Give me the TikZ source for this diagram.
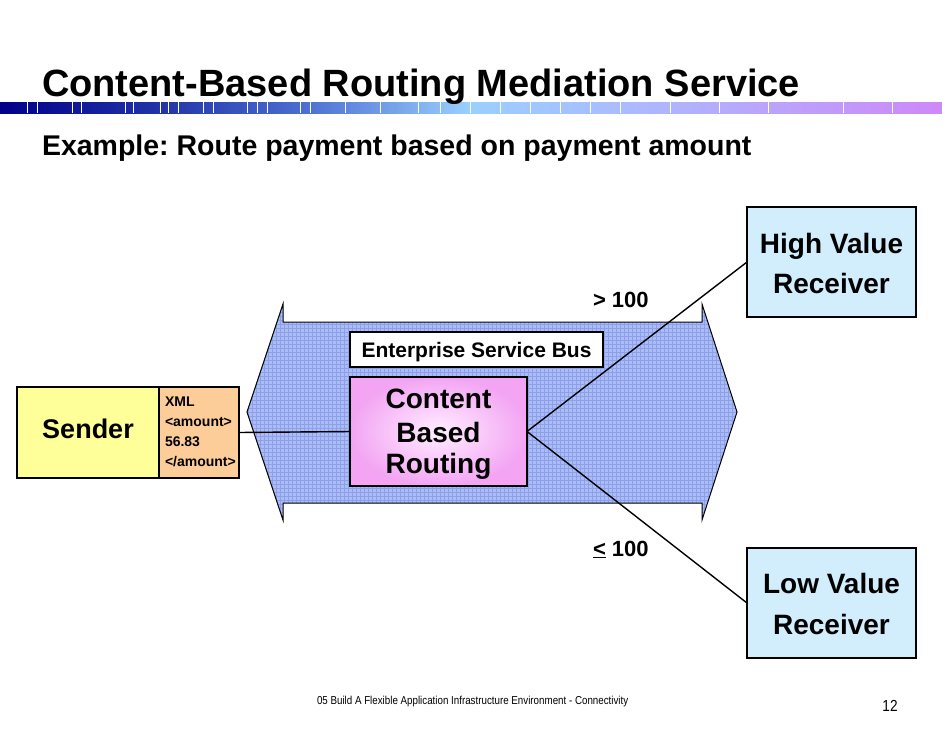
\documentclass[tikz,border=0pt]{standalone}
\usepackage{fontspec}
\setmainfont{Liberation Sans}
\frenchspacing
\definecolor{busblue}{RGB}{172,188,246}
\definecolor{gridblue}{RGB}{140,160,234}
\definecolor{senderyellow}{RGB}{255,255,153}
\definecolor{xmlpeach}{RGB}{252,204,153}
\definecolor{recvblue}{RGB}{210,238,253}
\definecolor{cbrouter}{RGB}{243,165,243}
\definecolor{cbrinner}{RGB}{255,238,255}
\definecolor{barA}{RGB}{0,0,136}
\definecolor{barB}{RGB}{34,52,168}
\definecolor{barC}{RGB}{74,108,208}
\definecolor{barD}{RGB}{153,208,255}
\definecolor{barE}{RGB}{170,188,255}
\definecolor{barF}{RGB}{188,162,250}
\definecolor{barG}{RGB}{206,136,250}
\pgfdeclarehorizontalshading{titlebar}{100bp}{color(0bp)=(barA); color(25bp)=(barA); color(33.5bp)=(barB); color(40.9bp)=(barC); color(49.9bp)=(barD); color(57.9bp)=(barE); color(66.4bp)=(barF); color(75bp)=(barG); color(100bp)=(barG)}
\newcommand\buspathcmd{(247,412) -- (283,304) -- (283,322) -- (702,322) -- (702,304) -- (737,412) -- (702,520) -- (702,503) -- (283,503) -- (283,520) -- cycle}
\begin{document}
\begin{tikzpicture}[x=1pt,y=-1pt,
  every node/.style={inner sep=0pt, outer sep=0pt},
  boxstyle/.style={draw=black, line width=1.1pt},
  bigtxt/.style={font=\fontsize{28}{34}\selectfont\bfseries, anchor=base},
  xmltxt/.style={font=\fontsize{14}{16}\selectfont\bfseries, anchor=base west},
  condtxt/.style={font=\fontsize{22}{26}\selectfont\bfseries, anchor=base west},
  conn/.style={draw=black, line width=1.4pt}]
\useasboundingbox (0,0) rectangle (942,728);
\fill[white] (0,0) rectangle (942,728);

% title bar
\shade[shading=titlebar] (0,102) rectangle (942,113);
\foreach \x in {27,37,72,81,125,133,160,168,178,203,213,247,257,267,300,310,345,380,418,440,470,500,530,560,590,620,670,719,768,843,892}
  \draw[white, line width=0.7pt] (\x,102) -- (\x,113);

\node[anchor=base west, font=\fontsize{38}{44}\selectfont\bfseries] (title) at (42,96) {Content-Based Routing Mediation Service};
\node[anchor=base west, font=\fontsize{28.5}{34}\selectfont\bfseries] (subtitle) at (42,155) {Example: Route payment based on payment amount};

% bus
\fill[busblue] \buspathcmd;
\begin{scope}
  \clip \buspathcmd;
  \draw[gridblue, line width=0.25pt, step=4pt] (240,300) grid (740,525);
\end{scope}
\draw[black, line width=1pt, line join=miter] \buspathcmd;

% boxes
\node[boxstyle, fill=white, minimum width=253pt, minimum height=35pt] (esb) at (476.5,349.5) {};
\node[font=\fontsize{21}{25}\selectfont\bfseries, anchor=base] (esbtxt) at (476.5,357) {Enterprise Service Bus};

\node[boxstyle, inner color=cbrinner, outer color=cbrouter, minimum width=177pt, minimum height=109pt] (cbr) at (438.5,431.5) {};
\node[bigtxt] (cbr1) at (438.5,408) {Content};
\node[bigtxt] (cbr2) at (438.5,442) {Based};
\node[bigtxt] (cbr3) at (438.5,473) {Routing};

\node[boxstyle, fill=senderyellow, minimum width=142pt, minimum height=91pt] (sender) at (88,432.5) {};
\node[font=\fontsize{27}{32}\selectfont\bfseries, anchor=base] (sendertxt) at (88,438) {Sender};

\node[boxstyle, fill=xmlpeach, minimum width=80pt, minimum height=91pt] (xml) at (199,432.5) {};
\node[xmltxt] (xml1) at (165,406) {XML};
\node[xmltxt] (xml2) at (165,426) {<amount>};
\node[xmltxt] (xml3) at (165,446) {56.83};
\node[xmltxt] (xml4) at (165,466) {</amount>};

\node[boxstyle, fill=recvblue, minimum width=169pt, minimum height=110pt] (hvr) at (831.5,262) {};
\node[bigtxt] (hvr1) at (831.5,253) {High Value};
\node[bigtxt] (hvr2) at (831.5,293) {Receiver};

\node[boxstyle, fill=recvblue, minimum width=169pt, minimum height=110pt] (lvr) at (831.5,603) {};
\node[bigtxt] (lvr1) at (831.5,593) {Low Value};
\node[bigtxt] (lvr2) at (831.5,634) {Receiver};

% connectors
\draw[conn] (xml.east) -- (cbr.west);
\draw[conn] (cbr.east) -- (hvr.west);
\draw[conn] (cbr.east) -- (lvr.west);

\node[condtxt] (gt) at (593,307) {> 100};
\node[condtxt] (le) at (593,556) {\underline{<} 100};

% footer
\node[anchor=base west] (footer) at (317,704) {\scalebox{0.85}[1]{\fontsize{11.5}{13}\selectfont 05 Build A Flexible Application Infrastructure Environment - Connectivity}};
\node[anchor=base] (pagenum) at (890,711) {\scalebox{0.85}[1]{\fontsize{16}{18}\selectfont 12}};
\end{tikzpicture}
\end{document}
